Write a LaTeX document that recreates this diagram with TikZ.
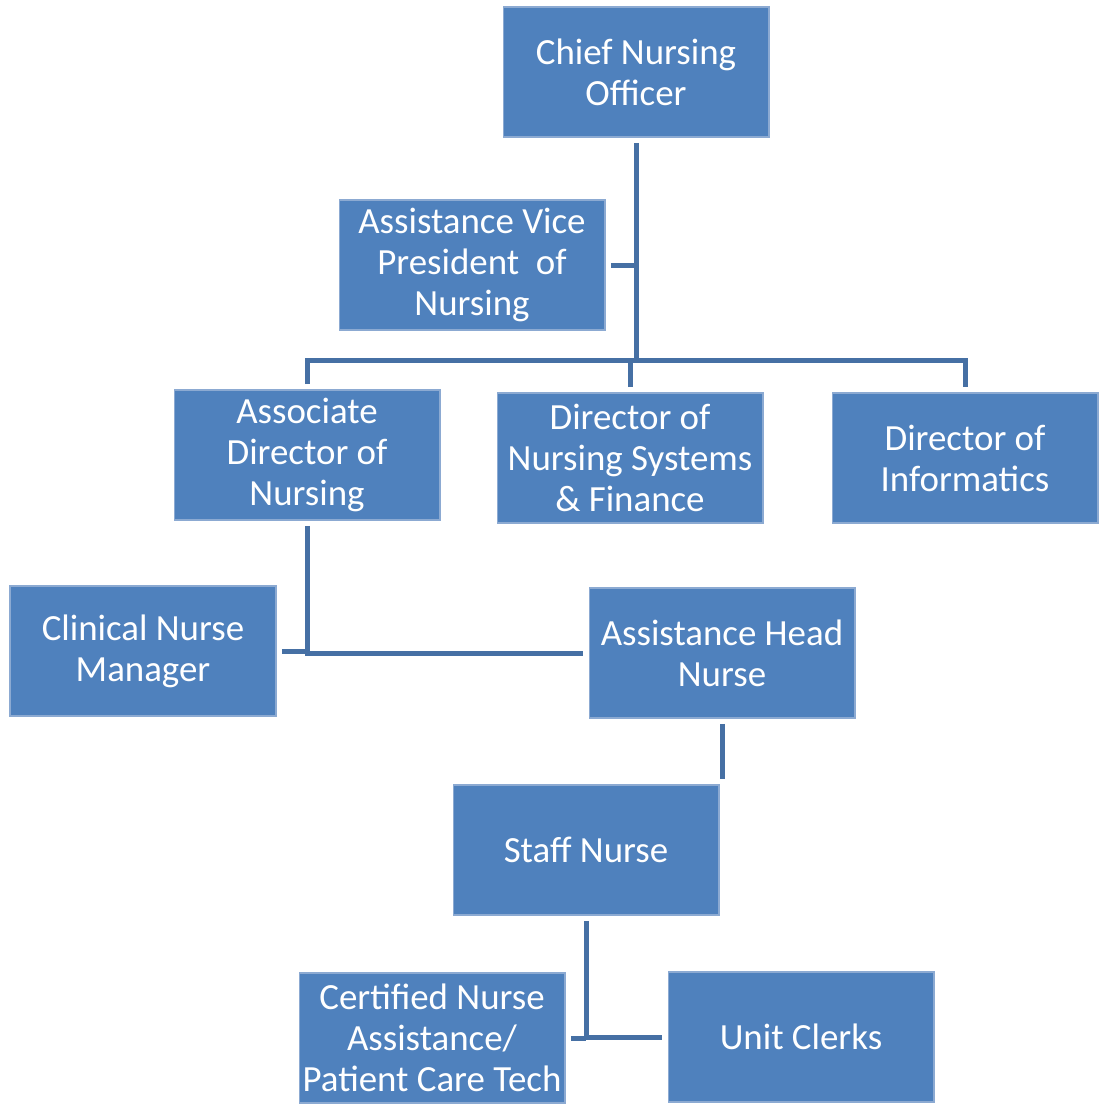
\documentclass[tikz,border=0pt]{standalone}
\usepackage{fontspec}
\setmainfont{Carlito}
\usetikzlibrary{positioning}
\definecolor{boxblue}{RGB}{79,129,189}
\definecolor{boxedge}{RGB}{140,170,210}
\definecolor{linkblue}{RGB}{70,112,164}
\tikzset{
  rolebox/.style={rectangle,fill=boxblue,draw=boxedge,line width=.6pt,
    minimum width=5.32cm,minimum height=2.6cm,inner sep=0pt,outer sep=.12cm,
    align=center,text=white,font=\fontsize{21}{23.3}\selectfont},
  link/.style={draw=linkblue,line width=.1cm}
}
\begin{document}
\begin{tikzpicture}[x=.02cm,y=-.02cm]
  \useasboundingbox (0,0) rectangle (1102,1110);
  % boxes
  \node[rolebox] (cno) at (636,72) {Chief Nursing\\Officer};
  \node[rolebox] (avp) at (472,265) {Assistance Vice\\President~ of\\Nursing};
  \node[rolebox] (adn) at (307,455) {Associate\\Director of\\Nursing};
  \node[rolebox] (dns) at (630,458) {Director of\\Nursing Systems\\\& Finance};
  \node[rolebox] (dinf) at (965,458) {Director of\\Informatics};
  \node[rolebox] (cnm) at (143,651) {Clinical Nurse\\Manager};
  \node[rolebox] (ahn) at (722,653) {Assistance Head\\Nurse};
  \node[rolebox] (staff) at (586,850) {Staff Nurse};
  \node[rolebox] (cna) at (432,1038) {Certified Nurse\\Assistance/\\Patient Care Tech};
  \node[rolebox] (clerks) at (801,1037) {Unit Clerks};
  \coordinate (bus) at (636,360);
  % connectors
  \draw[link] (cno.south) -- (bus);
  \draw[link] (avp.east) -- (avp.east -| bus);
  \draw[link] (adn.north) |- (bus) -| (dinf.north);
  \draw[link] (dns.north) -- (dns.north |- bus);
  \draw[link] (adn.south) |- (ahn.west);
  \draw[link] (cnm.east) -- (cnm.east -| adn.south);
  \draw[link] (ahn.south) -- (ahn.south |- staff.north);
  \draw[link] (staff.south) |- (clerks.west);
  \draw[link] (cna.east) -- (cna.east -| staff.south);
\end{tikzpicture}
\end{document}
